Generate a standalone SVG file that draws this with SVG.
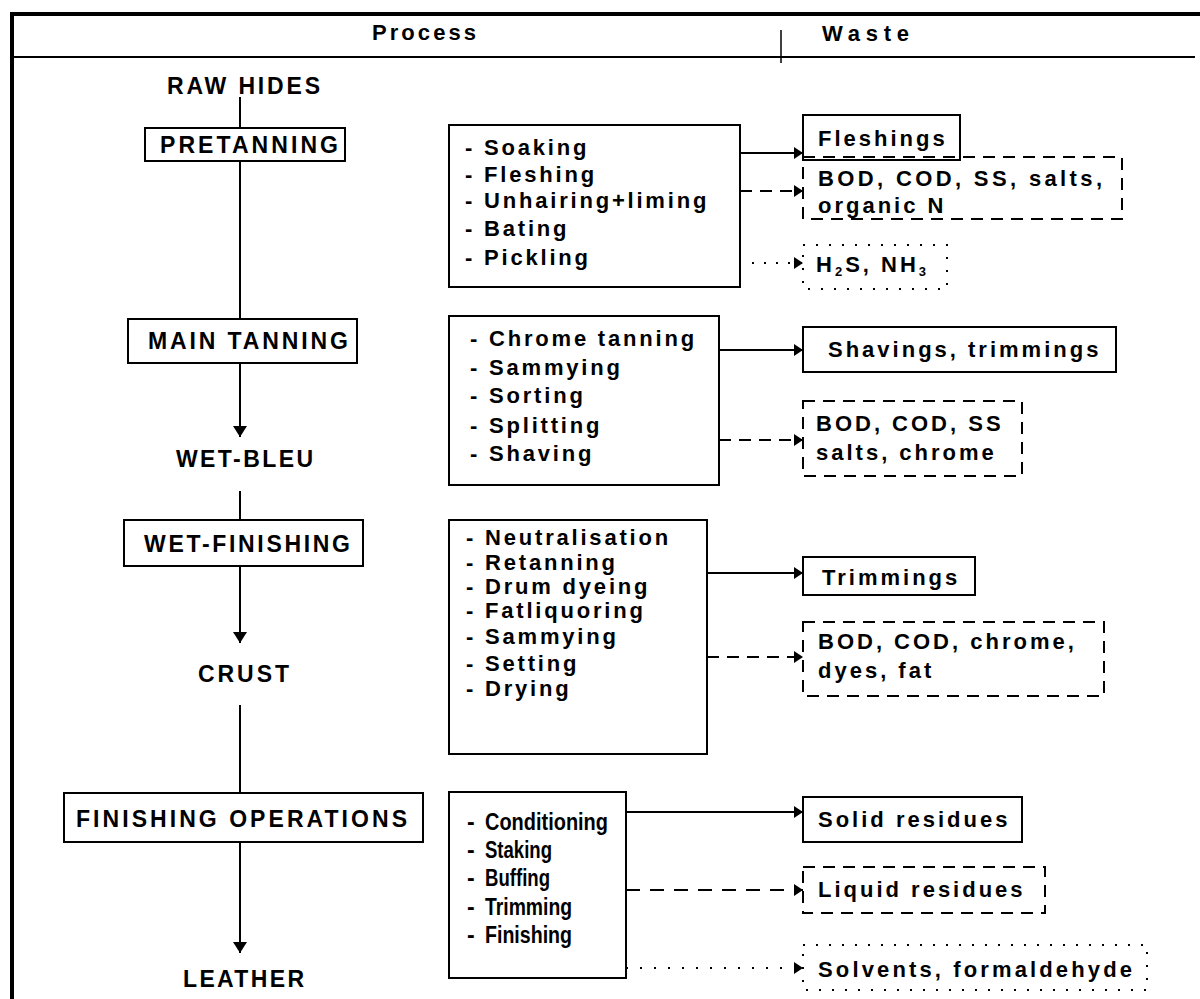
<svg xmlns="http://www.w3.org/2000/svg" width="1200" height="999" viewBox="0 0 1200 999">
<style>
text{font-family:"Liberation Sans",Arial,sans-serif;font-weight:bold;fill:#000}
.lbl{font-size:23px}
.step{font-size:22px;letter-spacing:2.8px}
.fin{font-size:23px}
.waste{font-size:22px;letter-spacing:3px}
.hdr{font-size:22px}
.box{fill:#fff;stroke:#000;stroke-width:2}
.dash{fill:none;stroke:#000;stroke-width:2;stroke-dasharray:12 8}
.dot{fill:none;stroke:#000;stroke-width:2;stroke-dasharray:2 11}
.ln{stroke:#000;stroke-width:2;fill:none}
</style>
<defs>
<marker id="ah" markerUnits="userSpaceOnUse" markerWidth="12" markerHeight="14" refX="11" refY="7" orient="auto"><path d="M0,0 L11,7 L0,14 z" fill="#000"/></marker>
<marker id="ahs" markerUnits="userSpaceOnUse" markerWidth="10" markerHeight="12" refX="9" refY="6" orient="auto"><path d="M0,0 L9,6 L0,12 z" fill="#000"/></marker>
</defs>

<g id="frame">
<line x1="12" y1="12" x2="12" y2="999" stroke="#000" stroke-width="4"/>
<line x1="10" y1="14" x2="1200" y2="14" stroke="#000" stroke-width="4"/>
<line x1="10" y1="57" x2="1195" y2="57" stroke="#000" stroke-width="2"/>
<line x1="781" y1="30" x2="781" y2="63" stroke="#000" stroke-width="1.5"/>
<text class="hdr" x="372" y="40" textLength="104">Process</text>
<text class="hdr" x="822" y="41" textLength="87">Waste</text>
</g>

<g id="connectors">
<line class="ln" x1="240" y1="97" x2="240" y2="128"/>
<line class="ln" x1="240" y1="161" x2="240" y2="319"/>
<line class="ln" x1="240" y1="363" x2="240" y2="437" marker-end="url(#ah)"/>
<line class="ln" x1="240" y1="491" x2="240" y2="520"/>
<line class="ln" x1="240" y1="566" x2="240" y2="643" marker-end="url(#ah)"/>
<line class="ln" x1="240" y1="705" x2="240" y2="793"/>
<line class="ln" x1="240" y1="842" x2="240" y2="953" marker-end="url(#ah)"/>

<line class="ln" x1="740" y1="153" x2="803" y2="153" stroke-width="2.5" marker-end="url(#ahs)"/>
<line class="ln" x1="740" y1="191" x2="803" y2="191" stroke-dasharray="12 8" marker-end="url(#ahs)"/>
<line class="ln" x1="752" y1="263" x2="803" y2="263" stroke-dasharray="2 10" marker-end="url(#ahs)"/>
<line class="ln" x1="719" y1="350" x2="803" y2="350" marker-end="url(#ahs)"/>
<line class="ln" x1="719" y1="440" x2="803" y2="440" stroke-dasharray="12 8" marker-end="url(#ahs)"/>
<line class="ln" x1="707" y1="573" x2="803" y2="573" marker-end="url(#ahs)"/>
<line class="ln" x1="707" y1="657" x2="803" y2="657" stroke-dasharray="12 8" marker-end="url(#ahs)"/>
<line class="ln" x1="626" y1="812" x2="803" y2="812" marker-end="url(#ahs)"/>
<line class="ln" x1="626" y1="890" x2="803" y2="890" stroke-width="3" stroke-dasharray="14 10" marker-end="url(#ahs)"/>
<line class="ln" x1="626" y1="968" x2="803" y2="968" stroke-dasharray="2 12" marker-end="url(#ahs)"/>
</g>

<g id="raw-hides"><text class="lbl" x="167" y="94" textLength="153">RAW HIDES</text></g>
<g id="pretanning"><rect class="box" x="145" y="128" width="200" height="33"/><text class="lbl" x="160" y="153" textLength="178">PRETANNING</text></g>
<g id="main-tanning"><rect class="box" x="128" y="319" width="229" height="44"/><text class="lbl" x="148" y="349" textLength="200">MAIN TANNING</text></g>
<g id="wet-bleu"><text class="lbl" x="176" y="467" textLength="137">WET-BLEU</text></g>
<g id="wet-finishing"><rect class="box" x="124" y="520" width="239" height="46"/><text class="lbl" x="144" y="552" textLength="206">WET-FINISHING</text></g>
<g id="crust"><text class="lbl" x="198" y="682" textLength="91">CRUST</text></g>
<g id="finishing-operations"><rect class="box" x="64" y="793" width="359" height="49"/><text class="lbl" x="76" y="827" textLength="331">FINISHING OPERATIONS</text></g>
<g id="leather"><text class="lbl" x="183" y="987" textLength="121">LEATHER</text></g>

<g id="pretanning-steps">
<rect class="box" x="449" y="125" width="291" height="162"/>
<text class="step" x="465" y="155">- Soaking</text>
<text class="step" x="465" y="182">- Fleshing</text>
<text class="step" x="465" y="208">- Unhairing+liming</text>
<text class="step" x="465" y="236">- Bating</text>
<text class="step" x="465" y="265">- Pickling</text>
</g>
<g id="main-tanning-steps">
<rect class="box" x="449" y="316" width="270" height="169"/>
<text class="step" x="470" y="346">- Chrome tanning</text>
<text class="step" x="470" y="375">- Sammying</text>
<text class="step" x="470" y="403">- Sorting</text>
<text class="step" x="470" y="433">- Splitting</text>
<text class="step" x="470" y="461">- Shaving</text>
</g>
<g id="wet-finishing-steps">
<rect class="box" x="449" y="520" width="258" height="234"/>
<text class="step" x="466" y="545">- Neutralisation</text>
<text class="step" x="466" y="570">- Retanning</text>
<text class="step" x="466" y="594">- Drum dyeing</text>
<text class="step" x="466" y="618">- Fatliquoring</text>
<text class="step" x="466" y="644">- Sammying</text>
<text class="step" x="466" y="671">- Setting</text>
<text class="step" x="466" y="696">- Drying</text>
</g>
<g id="finishing-steps">
<rect class="box" x="449" y="792" width="177" height="186"/>
<text class="fin" x="467" y="830">-</text><text class="fin" x="485" y="830" textLength="123" lengthAdjust="spacingAndGlyphs">Conditioning</text>
<text class="fin" x="467" y="858">-</text><text class="fin" x="485" y="858" textLength="67" lengthAdjust="spacingAndGlyphs">Staking</text>
<text class="fin" x="467" y="886">-</text><text class="fin" x="485" y="886" textLength="65" lengthAdjust="spacingAndGlyphs">Buffing</text>
<text class="fin" x="467" y="915">-</text><text class="fin" x="485" y="915" textLength="87" lengthAdjust="spacingAndGlyphs">Trimming</text>
<text class="fin" x="467" y="943">-</text><text class="fin" x="485" y="943" textLength="87" lengthAdjust="spacingAndGlyphs">Finishing</text>
</g>

<g id="fleshings"><rect class="box" x="803" y="115" width="157" height="45"/><text class="waste" x="818" y="146">Fleshings</text></g>
<g id="waste-pretanning-water"><rect class="dash" x="803" y="157" width="319" height="62"/><text class="waste" x="818" y="186" textLength="287">BOD, COD, SS, salts,</text><text class="waste" x="818" y="213">organic N</text></g>
<g id="waste-gases"><rect class="dot" x="803" y="245" width="144" height="44"/><text class="waste" x="816" y="272">H<tspan font-size="13" dy="4">2</tspan><tspan dy="-4">S, NH</tspan><tspan font-size="13" dy="4">3</tspan></text></g>
<g id="shavings"><rect class="box" x="803" y="327" width="313" height="45"/><text class="waste" x="828" y="357">Shavings, trimmings</text></g>
<g id="waste-tanning-water"><rect class="dash" x="803" y="401" width="219" height="75"/><text class="waste" x="816" y="431">BOD, COD, SS</text><text class="waste" x="816" y="460">salts, chrome</text></g>
<g id="trimmings"><rect class="box" x="803" y="557" width="172" height="38"/><text class="waste" x="822" y="585">Trimmings</text></g>
<g id="waste-wetfinishing-water"><rect class="dash" x="803" y="622" width="301" height="74"/><text class="waste" x="818" y="649">BOD, COD, chrome,</text><text class="waste" x="818" y="678">dyes, fat</text></g>
<g id="solid-residues"><rect class="box" x="803" y="797" width="219" height="45"/><text class="waste" x="818" y="827">Solid residues</text></g>
<g id="liquid-residues"><rect class="dash" x="803" y="867" width="242" height="46"/><text class="waste" x="818" y="897">Liquid residues</text></g>
<g id="solvents"><rect class="dot" x="803" y="945" width="344" height="45"/><text class="waste" x="818" y="977" textLength="317">Solvents, formaldehyde</text></g>
</svg>
